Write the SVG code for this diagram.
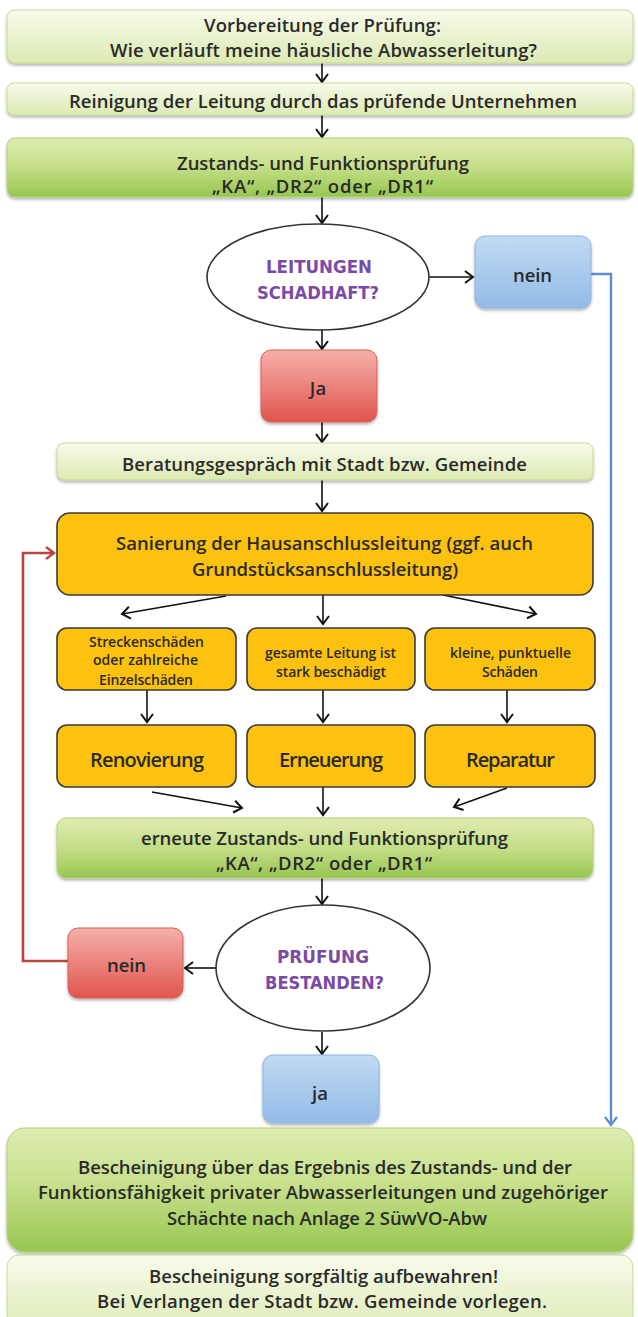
<svg xmlns="http://www.w3.org/2000/svg" width="638" height="1317" viewBox="0 0 638 1317">
<style>
.t{font-family:"Open Sans",Lato,"Liberation Sans",sans-serif;font-size:18.5px;font-weight:600;fill:#2a2a2a;text-anchor:middle}
.s{font-size:14px;font-weight:600}
.m{font-size:20px;font-weight:600}
.q{font-family:"DejaVu Sans Condensed","DejaVu Sans",sans-serif;font-weight:bold;font-stretch:condensed;fill:#7A4BA6;font-size:18.5px;text-anchor:middle}
.pale{fill:url(#paleG);stroke:#C6DA92;stroke-width:1}
.green{fill:url(#greenG);stroke:#B3D078;stroke-width:1}
.org{fill:#FDC10F;stroke:#3A3A3A;stroke-width:1.6}
.blue{fill:url(#blueG);stroke:#8DB4E0;stroke-width:1}
.red{fill:url(#redG);stroke:#D9605A;stroke-width:1}
.ell{fill:#fff;stroke:#333;stroke-width:1.6}
.c{fill:none;stroke:#111;stroke-width:1.6;marker-end:url(#ah)}
</style>
<defs>
<linearGradient id="paleG" x1="0" y1="0" x2="0" y2="1"><stop offset="0" stop-color="#F8FBEC"/><stop offset="1" stop-color="#DCEAB2"/></linearGradient>
<linearGradient id="greenG" x1="0" y1="0" x2="0" y2="1"><stop offset="0" stop-color="#DFEDB2"/><stop offset="0.5" stop-color="#C4DE87"/><stop offset="1" stop-color="#97C651"/></linearGradient>
<linearGradient id="blueG" x1="0" y1="0" x2="0" y2="1"><stop offset="0" stop-color="#C2DAF3"/><stop offset="1" stop-color="#92BBE6"/></linearGradient>
<linearGradient id="redG" x1="0" y1="0" x2="0" y2="1"><stop offset="0" stop-color="#F6B0AB"/><stop offset="1" stop-color="#E0554D"/></linearGradient>
<filter id="sh" x="-10%" y="-10%" width="120%" height="130%"><feDropShadow dx="0" dy="2" stdDeviation="1.8" flood-color="#000" flood-opacity="0.3"/></filter>
<marker id="ah" markerUnits="userSpaceOnUse" markerWidth="14" markerHeight="16" refX="9" refY="7" orient="auto" overflow="visible"><path d="M1,1 L9,7 L1,13" fill="none" stroke="#111" stroke-width="2"/></marker>
<marker id="ahb" markerUnits="userSpaceOnUse" markerWidth="14" markerHeight="16" refX="9" refY="7" orient="auto" overflow="visible"><path d="M1,1 L9,7 L1,13" fill="none" stroke="#5B8FD2" stroke-width="2.2"/></marker>
<marker id="ahr" markerUnits="userSpaceOnUse" markerWidth="14" markerHeight="16" refX="9" refY="7" orient="auto" overflow="visible"><path d="M1,1 L9,7 L1,13" fill="none" stroke="#B84441" stroke-width="2.4"/></marker>
</defs>

<g id="connectors">
<path class="c" d="M322,63 V82"/>
<path class="c" d="M322,115 V137"/>
<path class="c" d="M322,197 V223"/>
<path class="c" d="M429,277 H473"/>
<path class="c" d="M322,330 V349"/>
<path class="c" d="M322,422 V442"/>
<path class="c" d="M322,480 V511"/>
<path class="c" d="M226,596 L122,614"/>
<path class="c" d="M323,595 V624"/>
<path class="c" d="M443,595 L536,614"/>
<path class="c" d="M147,690 V722"/>
<path class="c" d="M323,690 V722"/>
<path class="c" d="M507,690 V722"/>
<path class="c" d="M152,792 L242,808"/>
<path class="c" d="M323,787 V815"/>
<path class="c" d="M507,788 L454,807"/>
<path class="c" d="M322,878 V904"/>
<path class="c" d="M216,968 H185"/>
<path class="c" d="M322,1032 V1054"/>
<path d="M591,274 H611 V1125" fill="none" stroke="#5B8FD2" stroke-width="2.4" marker-end="url(#ahb)"/>
<path d="M68,961 H23 V553 H54" fill="none" stroke="#B84441" stroke-width="2.6" marker-end="url(#ahr)"/>
</g>

<g id="n1"><rect class="pale" x="7" y="10" width="626" height="53" rx="8" filter="url(#sh)"/>
<text class="t" x="322.5" y="32" textLength="237">Vorbereitung der Prüfung:</text>
<text class="t" x="323.5" y="57" textLength="427">Wie verläuft meine häusliche Abwasserleitung?</text></g>

<g id="n2"><rect class="pale" x="7" y="83" width="626" height="32" rx="7" filter="url(#sh)"/>
<text class="t" x="323" y="108" textLength="508">Reinigung der Leitung durch das prüfende Unternehmen</text></g>

<g id="n3"><rect class="green" x="7" y="138" width="626" height="59" rx="8" filter="url(#sh)"/>
<text class="t" x="323" y="170" textLength="292">Zustands- und Funktionsprüfung</text>
<text class="t" x="322.5" y="193" textLength="221">„KA“, „DR2“ oder „DR1“</text></g>

<g id="d1"><ellipse class="ell" cx="318" cy="277" rx="111" ry="53"/>
<text class="q" x="319" y="273" textLength="106" lengthAdjust="spacingAndGlyphs">LEITUNGEN</text>
<text class="q" x="318" y="299" textLength="122" lengthAdjust="spacingAndGlyphs">SCHADHAFT?</text></g>

<g id="nein1"><rect class="blue" x="475" y="236" width="116" height="72" rx="10" filter="url(#sh)"/>
<text class="t" x="532.5" y="282" textLength="39">nein</text></g>

<g id="ja1"><rect class="red" x="261" y="350" width="116" height="72" rx="10" filter="url(#sh)"/>
<text class="t" x="318" y="395">Ja</text></g>

<g id="n4"><rect class="pale" x="57" y="443" width="536" height="37" rx="7" filter="url(#sh)"/>
<text class="t" x="324.5" y="471" textLength="405">Beratungsgespräch mit Stadt bzw. Gemeinde</text></g>

<g id="n5"><rect class="org" x="57" y="513" width="536" height="82" rx="13"/>
<text class="t" x="324.5" y="550" textLength="417">Sanierung der Hausanschlussleitung (ggf. auch</text>
<text class="t" x="325" y="576" textLength="266">Grundstücksanschlussleitung)</text></g>

<g id="s1"><rect class="org" x="57" y="628" width="179" height="62" rx="10"/>
<text class="t s" x="146.5" y="647" textLength="115">Streckenschäden</text>
<text class="t s" x="145.5" y="665" textLength="105">oder zahlreiche</text>
<text class="t s" x="146" y="685" textLength="94">Einzelschäden</text></g>

<g id="s2"><rect class="org" x="247" y="628" width="168" height="62" rx="10"/>
<text class="t s" x="330.5" y="658" textLength="131">gesamte Leitung ist</text>
<text class="t s" x="331" y="677" textLength="110">stark beschädigt</text></g>

<g id="s3"><rect class="org" x="425" y="628" width="170" height="62" rx="10"/>
<text class="t s" x="510.5" y="658" textLength="121">kleine, punktuelle</text>
<text class="t s" x="510" y="677" textLength="56">Schäden</text></g>

<g id="r1"><rect class="org" x="57" y="725" width="179" height="62" rx="10"/>
<text class="t m" x="147" y="767" textLength="114">Renovierung</text></g>

<g id="r2"><rect class="org" x="247" y="725" width="168" height="62" rx="10"/>
<text class="t m" x="331" y="767" textLength="104">Erneuerung</text></g>

<g id="r3"><rect class="org" x="425" y="725" width="170" height="62" rx="10"/>
<text class="t m" x="510.5" y="767" textLength="89">Reparatur</text></g>

<g id="n6"><rect class="green" x="57" y="818" width="536" height="60" rx="9" filter="url(#sh)"/>
<text class="t" x="324.5" y="845" textLength="367">erneute Zustands- und Funktionsprüfung</text>
<text class="t" x="324" y="870" textLength="216">„KA“, „DR2“ oder „DR1“</text></g>

<g id="d2"><ellipse class="ell" cx="323" cy="968" rx="107" ry="63"/>
<text class="q" x="323" y="963" textLength="92" lengthAdjust="spacingAndGlyphs">PRÜFUNG</text>
<text class="q" x="324.5" y="989" textLength="119" lengthAdjust="spacingAndGlyphs">BESTANDEN?</text></g>

<g id="nein2"><rect class="red" x="68" y="928" width="115" height="70" rx="10" filter="url(#sh)"/>
<text class="t" x="126.5" y="972" textLength="39">nein</text></g>

<g id="ja2"><rect class="blue" x="263" y="1055" width="116" height="68" rx="10" filter="url(#sh)"/>
<text class="t" x="320" y="1100">ja</text></g>

<g id="n7"><rect class="green" x="7" y="1128" width="626" height="124" rx="18" filter="url(#sh)"/>
<text class="t" x="325" y="1174" textLength="494">Bescheinigung über das Ergebnis des Zustands- und der</text>
<text class="t" x="323" y="1199" textLength="570">Funktionsfähigkeit privater Abwasserleitungen und zugehöriger</text>
<text class="t" x="327" y="1225" textLength="320">Schächte nach Anlage 2 SüwVO-Abw</text></g>

<g id="n8"><rect class="pale" x="7" y="1255" width="626" height="80" rx="12"/>
<text class="t" x="323.5" y="1283" textLength="349">Bescheinigung sorgfältig aufbewahren!</text>
<text class="t" x="322" y="1308" textLength="450">Bei Verlangen der Stadt bzw. Gemeinde vorlegen.</text></g>
</svg>
